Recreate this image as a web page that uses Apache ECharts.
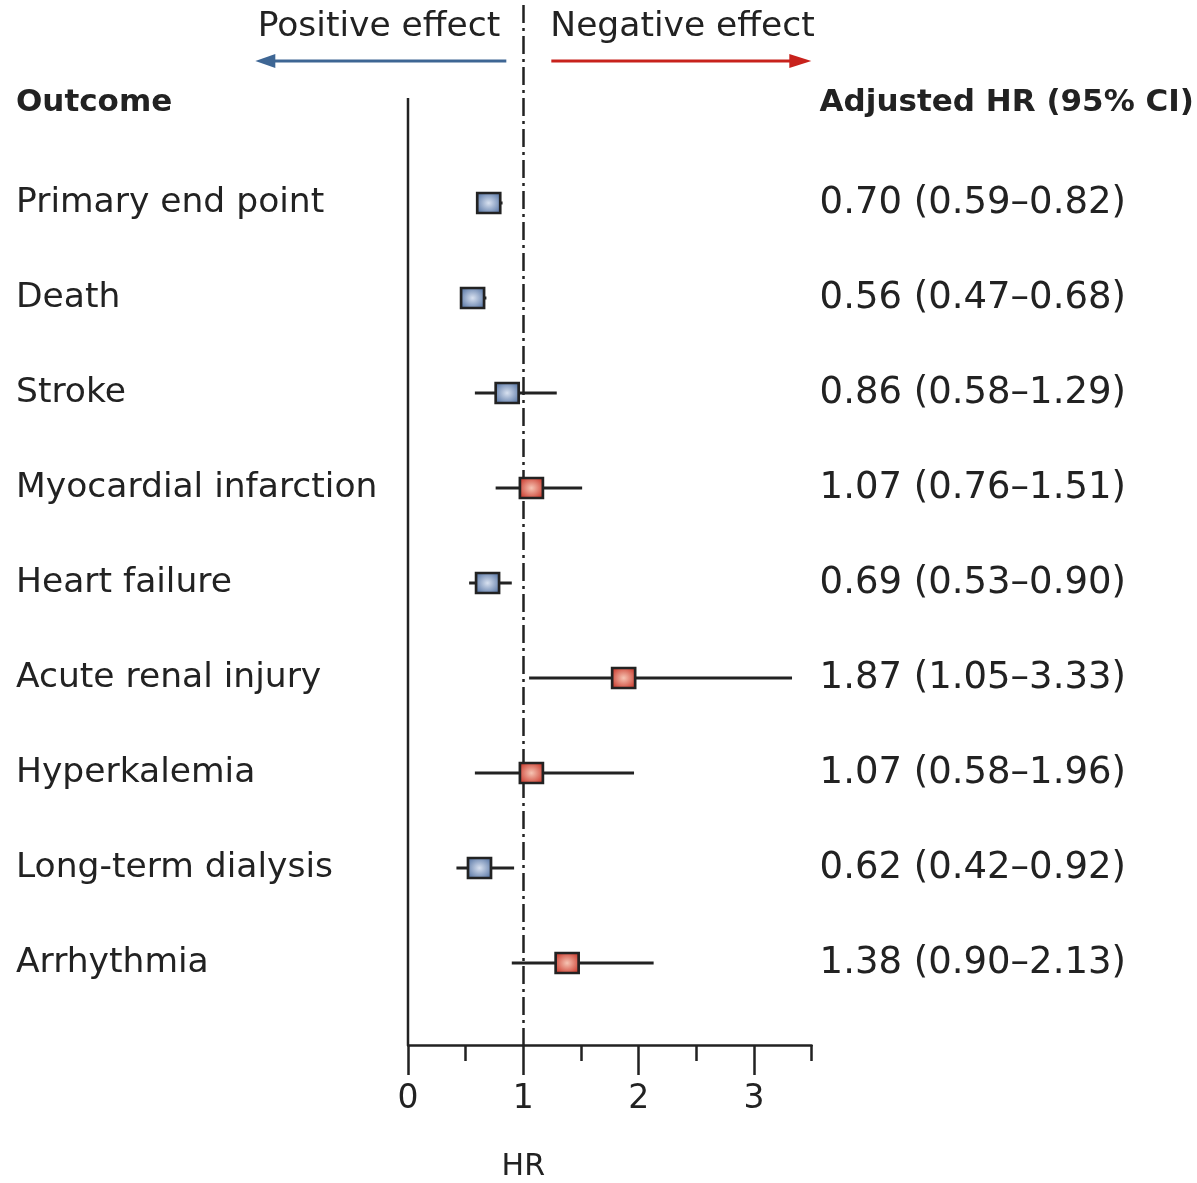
<!DOCTYPE html>
<html>
<head>
<meta charset="utf-8">
<script src="https://cdn.jsdelivr.net/npm/echarts@6/dist/echarts.min.js"></script>
<style>
  html, body { margin: 0; padding: 0; background: #ffffff; }
  #chart { width: 1197px; height: 1183px; }
</style>
</head>
<body>
<div id="chart"></div>
<script>
var outcomes = ['Primary end point', 'Death', 'Stroke', 'Myocardial infarction', 'Heart failure',
  'Acute renal injury', 'Hyperkalemia', 'Long-term dialysis', 'Arrhythmia']
var hr = [0.70, 0.56, 0.86, 1.07, 0.69, 1.87, 1.07, 0.62, 1.38]
var ciLow = [0.59, 0.47, 0.58, 0.76, 0.53, 1.05, 0.58, 0.42, 0.90]
var ciHigh = [0.82, 0.68, 1.29, 1.51, 0.90, 3.33, 1.96, 0.92, 2.13]
var majorTicks = [0, 1, 2, 3]
var minorTicks = [0.5, 1.5, 2.5, 3.5]

var FONT = 'DejaVu Sans'
var INK = '#222222'
var yMin = -2.084
var yMax = 8.863
var headerRow = -1.053
var axisTop = -1.105

function fmt (v) { return v.toFixed(2) }

var blueFill = {
  type: 'radial', x: 0.5, y: 0.5, r: 0.65,
  colorStops: [{offset: 0, color: '#d8e1f0'}, {offset: 1, color: '#46679a'}]
}
var redFill = {
  type: 'radial', x: 0.5, y: 0.5, r: 0.65,
  colorStops: [{offset: 0, color: '#f6c4b3'}, {offset: 1, color: '#c4261a'}]
}

var markers = hr.map(function (v, i) {
  return {
    value: [v, i],
    itemStyle: {color: v > 1 ? redFill : blueFill}
  }
})
var bars = hr.map(function (v, i) { return [ciLow[i], ciHigh[i], i] })
var rowIdx = outcomes.map(function (o, i) { return i })

var myChart = echarts.init(document.getElementById('chart'))
myChart.setOption({
  animation: false,
  grid: {left: 408, right: 385, top: 5, bottom: 138, containLabel: false},
  xAxis: [
    {
      type: 'value', min: 0, max: 3.5, position: 'bottom',
      axisLine: {show: true, onZero: false, lineStyle: {color: INK, width: 2.5}},
      axisTick: {show: true, length: 16, lineStyle: {color: INK, width: 2.5}, customValues: minorTicks},
      axisLabel: {show: false},
      splitLine: {show: false}
    },
    {
      type: 'value', min: 0, max: 3.5, position: 'bottom',
      axisLine: {show: false, onZero: false},
      axisTick: {show: true, length: 30, lineStyle: {color: INK, width: 2.5}, customValues: majorTicks},
      axisLabel: {
        show: true, customValues: majorTicks, margin: 38,
        fontFamily: FONT, fontSize: 33, color: INK
      },
      splitLine: {show: false}
    }
  ],
  yAxis: [
    {
      type: 'value', min: yMin, max: yMax, inverse: true, position: 'left',
      axisLine: {show: false}, axisTick: {show: false}, splitLine: {show: false},
      axisLabel: {
        show: true,
        customValues: [headerRow].concat(rowIdx),
        align: 'left', margin: 392,
        fontFamily: FONT, fontSize: 34.5, color: INK,
        formatter: function (v) { return v < 0 ? '{h|Outcome}' : outcomes[Math.round(v)] },
        rich: {h: {fontFamily: FONT, fontSize: 31, fontWeight: 'bold', color: INK}}
      }
    },
    {
      type: 'value', min: yMin, max: yMax, inverse: true, position: 'right',
      axisLine: {show: false}, axisTick: {show: false}, splitLine: {show: false},
      axisLabel: {
        show: true,
        customValues: [headerRow].concat(rowIdx),
        align: 'left', margin: 8,
        fontFamily: FONT, fontSize: 37, color: INK,
        formatter: function (v) {
          if (v < 0) return '{h|Adjusted HR (95% CI)}'
          var i = Math.round(v)
          return fmt(hr[i]) + ' (' + fmt(ciLow[i]) + '\u2013' + fmt(ciHigh[i]) + ')'
        },
        rich: {h: {fontFamily: FONT, fontSize: 31, fontWeight: 'bold', color: INK}}
      }
    }
  ],
  series: [
    {
      // left axis line, starts at the header row
      type: 'line',
      data: [[0, axisTop], [0, yMax]],
      symbol: 'none',
      lineStyle: {color: INK, width: 2.5},
      silent: true,
      z: 3
    },
    {
      type: 'custom',
      data: bars,
      renderItem: function (params, api) {
        var a = api.coord([api.value(0), api.value(2)])
        var b = api.coord([api.value(1), api.value(2)])
        return {
          type: 'line',
          shape: {x1: a[0], y1: a[1], x2: b[0], y2: b[1]},
          style: {stroke: INK, lineWidth: 3}
        }
      },
      z: 4
    },
    {
      type: 'scatter',
      data: markers,
      symbol: 'rect',
      symbolSize: [23, 20],
      itemStyle: {borderColor: INK, borderWidth: 2.5, opacity: 1},
      z: 5,
      markLine: {
        silent: true,
        symbol: ['none', 'none'],
        label: {show: false},
        lineStyle: {color: INK, width: 2.5, type: [18, 5, 3, 5]},
        data: [{xAxis: 1}]
      }
    }
  ]
})

// annotations above and below the plot, placed from the axis scale
var p1 = myChart.convertToPixel({xAxisIndex: 0, yAxisIndex: 0}, [1, yMax])
myChart.setOption({
  graphic: [
    {type: 'text', x: p1[0] - 23, y: 27,
      style: {text: 'Positive effect', fontFamily: FONT, fontSize: 34.5, fill: INK, align: 'right', verticalAlign: 'middle'}},
    {type: 'text', x: p1[0] + 27, y: 27,
      style: {text: 'Negative effect', fontFamily: FONT, fontSize: 34.5, fill: INK, align: 'left', verticalAlign: 'middle'}},
    {type: 'line', shape: {x1: p1[0] - 17, y1: 61, x2: p1[0] - 255, y2: 61},
      style: {stroke: '#3e6694', lineWidth: 3}},
    {type: 'polygon', shape: {points: [[p1[0] - 268, 61], [p1[0] - 248, 54], [p1[0] - 248, 68]]},
      style: {fill: '#3e6694'}},
    {type: 'line', shape: {x1: p1[0] + 28, y1: 61, x2: p1[0] + 272, y2: 61},
      style: {stroke: '#c8221c', lineWidth: 3}},
    {type: 'polygon', shape: {points: [[p1[0] + 288, 61], [p1[0] + 266, 54], [p1[0] + 266, 68]]},
      style: {fill: '#c8221c'}},
    {type: 'text', x: p1[0], y: 1167,
      style: {text: 'HR', fontFamily: FONT, fontSize: 30, fill: INK, align: 'center', verticalAlign: 'middle'}}
  ]
})
</script>
</body>
</html>
